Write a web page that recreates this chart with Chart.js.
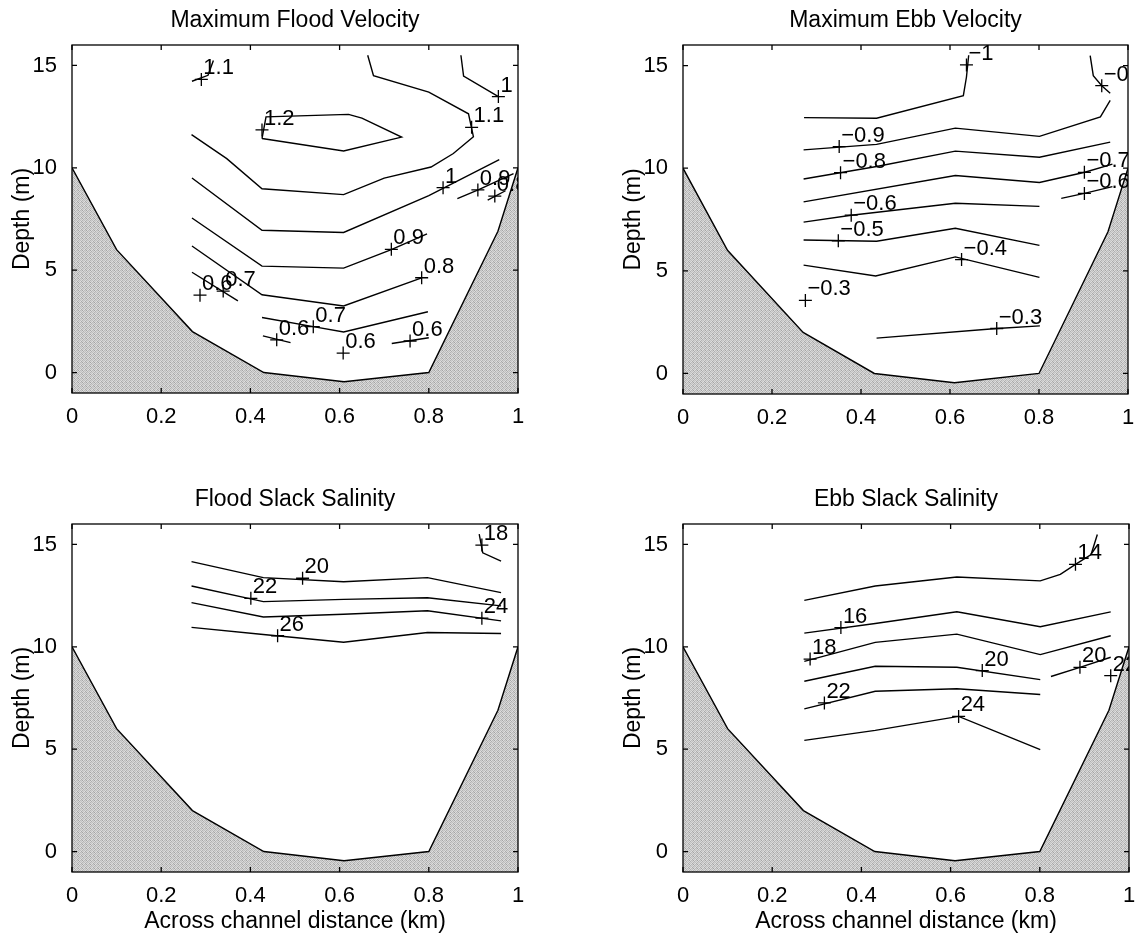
<!DOCTYPE html>
<html>
<head>
<meta charset="utf-8">
<title>Channel cross-section contours</title>
<script src="https://cdn.jsdelivr.net/npm/chart.js@4.4.1/dist/chart.umd.min.js"></script>
<style>
  html, body { margin: 0; padding: 0; background: #fff; }
  #fig { position: relative; width: 1139px; height: 936px; overflow: hidden; }
  #fig canvas { position: absolute; }
</style>
</head>
<body>
<div id="fig">
  <canvas id="floodVel" width="569" height="450" style="left:0px;top:0px"></canvas>
  <canvas id="ebbVel" width="528" height="450" style="left:611px;top:0px"></canvas>
  <canvas id="floodSal" width="569" height="466" style="left:0px;top:470px"></canvas>
  <canvas id="ebbSal" width="528" height="466" style="left:611px;top:470px"></canvas>
</div>
<script>
// axes
const xTicks = [0, 0.2, 0.4, 0.6, 0.8, 1];
const yTicks = [0, 5, 10, 15];

// channel bottom (km, m)
const bedX = [0, 0.1, 0.27, 0.43, 0.61, 0.8, 0.955, 1];
const bedDepth = [10, 6, 2, 0, -0.45, 0, 6.9, 10];

// Maximum flood velocity contours, [x km, depth m]
const floodV_11a = [[0.269, 14.23], [0.305, 14.52], [0.317, 15.24]];
const floodV_12 = [[0.426, 11.43], [0.435, 12.49], [0.62, 12.61], [0.65, 12.43], [0.739, 11.5], [0.609, 10.82], [0.426, 11.43]];
const floodV_11 = [[0.663, 15.5], [0.676, 14.5], [0.8, 13.7], [0.889, 12.64], [0.9, 11.52], [0.855, 10.7], [0.805, 10.04], [0.7, 9.5], [0.609, 8.69], [0.426, 8.98], [0.347, 10.45], [0.268, 11.62]];
const floodV_10a = [[0.872, 15.5], [0.878, 14.48], [0.958, 13.45]];
const floodV_10 = [[0.269, 9.5], [0.426, 6.95], [0.609, 6.84], [0.8, 8.64], [0.958, 10.4]];
const floodV_09 = [[0.269, 7.55], [0.426, 5.2], [0.609, 5.1], [0.716, 6.0], [0.796, 6.77]];
const floodV_09b = [[0.864, 8.5], [0.912, 8.93], [0.99, 9.72]];
const floodV_08 = [[0.269, 6.18], [0.426, 3.8], [0.609, 3.25], [0.784, 4.62]];
const floodV_08b = [[0.932, 8.42], [0.972, 8.88]];
const floodV_07a = [[0.269, 4.9], [0.372, 3.5]];
const floodV_07 = [[0.426, 2.69], [0.541, 2.24], [0.609, 1.98], [0.798, 2.97]];
const floodV_06a = [[0.428, 1.79], [0.49, 1.46]];
const floodV_06b = [[0.717, 1.42], [0.8, 1.7]];
const floodVMarks = [[0.29, 14.32, "1.1"], [0.426, 11.85, "1.2"], [0.896, 11.98, "1.1"], [0.956, 13.48, "1"],
  [0.832, 9.03, "1"], [0.91, 8.92, "0.9"], [0.948, 8.62, "0.8"], [0.716, 6.02, "0.9"], [0.784, 4.63, "0.8"],
  [0.287, 3.78, "0.6"], [0.339, 3.98, "0.7"], [0.459, 1.6, "0.6"], [0.541, 2.24, "0.7"], [0.608, 0.95, "0.6"], [0.758, 1.54, "0.6"]];

// Maximum ebb velocity contours
const ebbV_10 = [[0.272, 12.46], [0.435, 12.43], [0.63, 13.53], [0.637, 14.44], [0.642, 15.5]];
const ebbV_09a = [[0.915, 15.48], [0.922, 14.51], [0.941, 14.02], [0.96, 13.65]];
const ebbV_09 = [[0.271, 10.89], [0.435, 11.16], [0.612, 11.95], [0.801, 11.55], [0.938, 12.5], [0.96, 13.3]];
const ebbV_08 = [[0.271, 9.47], [0.435, 10.08], [0.612, 10.83], [0.801, 10.53], [0.96, 11.27]];
const ebbV_07 = [[0.271, 8.36], [0.612, 9.64], [0.801, 9.3], [0.903, 9.8], [0.965, 10.2]];
const ebbV_06 = [[0.271, 7.37], [0.378, 7.71], [0.612, 8.29], [0.801, 8.14]];
const ebbV_06b = [[0.85, 8.53], [0.902, 8.77], [0.965, 9.1]];
const ebbV_05 = [[0.271, 6.5], [0.435, 6.44], [0.612, 7.07], [0.801, 6.24]];
const ebbV_04 = [[0.271, 5.28], [0.433, 4.75], [0.612, 5.68], [0.801, 4.68]];
const ebbV_03 = [[0.435, 1.72], [0.705, 2.19], [0.802, 2.32]];
const ebbVMarks = [[0.637, 15.03, "−1"], [0.941, 14.02, "−0.9"], [0.351, 11.05, "−0.9"], [0.354, 9.78, "−0.8"],
  [0.902, 9.8, "−0.7"], [0.902, 8.77, "−0.6"], [0.378, 7.71, "−0.6"], [0.349, 6.46, "−0.5"],
  [0.626, 5.55, "−0.4"], [0.275, 3.56, "−0.3"], [0.705, 2.19, "−0.3"]];

// Flood slack salinity contours
const floodS_18 = [[0.913, 15.5], [0.921, 14.59], [0.962, 14.19]];
const floodS_20 = [[0.268, 14.16], [0.429, 13.38], [0.609, 13.18], [0.797, 13.38], [0.962, 12.65]];
const floodS_22 = [[0.268, 12.97], [0.429, 12.21], [0.609, 12.32], [0.797, 12.4], [0.962, 12.0]];
const floodS_24 = [[0.268, 12.16], [0.429, 11.46], [0.609, 11.59], [0.797, 11.76], [0.962, 11.27]];
const floodS_26 = [[0.268, 10.95], [0.429, 10.6], [0.609, 10.22], [0.797, 10.7], [0.962, 10.65]];
const floodSMarks = [[0.919, 14.97, "18"], [0.517, 13.35, "20"], [0.401, 12.37, "22"], [0.919, 11.4, "24"], [0.461, 10.54, "26"]];

// Ebb slack salinity contours
const ebbS_14 = [[0.272, 12.27], [0.431, 12.97], [0.614, 13.41], [0.801, 13.22], [0.846, 13.54], [0.88, 14.03], [0.915, 14.51], [0.929, 15.49]];
const ebbS_16 = [[0.272, 10.67], [0.431, 11.14], [0.614, 11.71], [0.801, 10.98], [0.959, 11.71]];
const ebbS_18 = [[0.272, 9.29], [0.431, 10.22], [0.614, 10.62], [0.801, 9.62], [0.959, 10.54]];
const ebbS_20 = [[0.272, 8.32], [0.431, 9.05], [0.614, 9.0], [0.801, 8.4]];
const ebbS_20b = [[0.825, 8.55], [0.89, 9.0], [0.959, 9.49]];
const ebbS_22 = [[0.272, 6.97], [0.431, 7.83], [0.614, 7.95], [0.801, 7.67]];
const ebbS_24 = [[0.272, 5.43], [0.431, 5.92], [0.618, 6.6], [0.801, 4.98]];
const ebbSMarks = [[0.88, 14.03, "14"], [0.354, 10.94, "16"], [0.285, 9.4, "18"], [0.671, 8.84, "20"],
  [0.89, 9.0, "20"], [0.959, 8.59, "22"], [0.317, 7.26, "22"], [0.618, 6.6, "24"]];

const FONT = "'Liberation Sans', Arial, Helvetica, sans-serif";
Chart.defaults.font.family = FONT;
Chart.defaults.font.size = 22;
Chart.defaults.color = "#000";

// grey stipple used for the channel bed
function makeStipple(ctx) {
    const shades = [[190, 218, 180, 210], [224, 170, 214, 196], [186, 208, 164, 222], [214, 192, 220, 176]];
    const c = document.createElement("canvas");
    c.width = 4;
    c.height = 4;
    const g = c.getContext("2d");
    shades.forEach(function(row, j) {
        row.forEach(function(v, i) {
            g.fillStyle = "rgb(" + v + "," + v + "," + v + ")";
            g.fillRect(i, j, 1, 1);
        });
    });
    return ctx.createPattern(c, "repeat");
}

// box, inward ticks, contour labels and panel title
const framePlugin = {
    id: "frame",
    afterDatasetsDraw(chart, args, opts) {
        const ctx = chart.ctx;
        const a = chart.chartArea;
        const sx = chart.scales.x;
        const sy = chart.scales.y;
        ctx.save();
        ctx.strokeStyle = "#000";
        ctx.lineWidth = 1.3;
        ctx.strokeRect(a.left, a.top, a.right - a.left, a.bottom - a.top);
        ctx.beginPath();
        xTicks.forEach(function(v) {
            const p = sx.getPixelForValue(v);
            ctx.moveTo(p, a.bottom);
            ctx.lineTo(p, a.bottom - 5);
            ctx.moveTo(p, a.top);
            ctx.lineTo(p, a.top + 5);
        });
        yTicks.forEach(function(v) {
            const p = sy.getPixelForValue(v);
            ctx.moveTo(a.left, p);
            ctx.lineTo(a.left + 5, p);
            ctx.moveTo(a.right, p);
            ctx.lineTo(a.right - 5, p);
        });
        ctx.stroke();

        ctx.fillStyle = "#000";
        ctx.font = "23px " + FONT;
        ctx.textAlign = "center";
        ctx.textBaseline = "middle";
        ctx.fillText(opts.title, (a.left + a.right) / 2, a.top - 24);

        ctx.beginPath();
        ctx.rect(a.left, a.top, a.right - a.left, a.bottom - a.top);
        ctx.clip();
        ctx.font = "22px " + FONT;
        ctx.textAlign = "left";
        ctx.textBaseline = "alphabetic";
        opts.marks.forEach(function(m) {
            ctx.fillText(m[2], sx.getPixelForValue(m[0]) + 2, sy.getPixelForValue(m[1]) - 5);
        });
        ctx.restore();
    }
};

function toXY(pts) {
    return pts.map(function(p) { return {x: p[0], y: p[1]}; });
}

function makePanel(id, title, lines, marks, xTitle, padTop, padRight, xAxisH) {
    const canvas = document.getElementById(id);
    const datasets = [{
        data: bedX.map(function(v, i) { return {x: v, y: bedDepth[i]}; }),
        borderColor: "#000",
        borderWidth: 1.4,
        pointRadius: 0,
        backgroundColor: makeStipple(canvas.getContext("2d")),
        fill: "start",
        order: 3
    }];
    lines.forEach(function(l) {
        datasets.push({data: toXY(l), borderColor: "#000", borderWidth: 1.4, pointRadius: 0, fill: false, order: 2});
    });
    datasets.push({
        data: toXY(marks),
        showLine: false,
        pointStyle: "cross",
        pointRadius: 6.5,
        borderColor: "#000",
        borderWidth: 1.3,
        order: 1
    });

    new Chart(canvas, {
        type: "line",
        data: {datasets: datasets},
        options: {
            responsive: false,
            animation: false,
            events: [],
            layout: {padding: {top: padTop, right: padRight, left: 0, bottom: 0}},
            plugins: {
                legend: {display: false},
                tooltip: {enabled: false},
                frame: {title: title, marks: marks}
            },
            scales: {
                x: {
                    type: "linear",
                    min: 0,
                    max: 1,
                    afterBuildTicks: function(s) { s.ticks = xTicks.map(function(v) { return {value: v}; }); },
                    afterFit: function(s) { s.height = xAxisH; },
                    grid: {display: false},
                    border: {display: false},
                    ticks: {padding: 3, maxRotation: 0, callback: function(v) { return String(v); }},
                    title: {display: xTitle, text: "Across channel distance (km)", font: {size: 23}, padding: {top: 0, bottom: 1}}
                },
                y: {
                    type: "linear",
                    min: -1,
                    max: 16,
                    afterBuildTicks: function(s) { s.ticks = yTicks.map(function(v) { return {value: v}; }); },
                    afterFit: function(s) { s.width = 72; },
                    grid: {display: false},
                    border: {display: false},
                    ticks: {padding: 7, callback: function(v) { return String(v); }},
                    title: {display: true, text: "Depth (m)", font: {size: 23}, padding: {top: 9, bottom: 0}}
                }
            }
        },
        plugins: [framePlugin]
    });
}

makePanel("floodVel", "Maximum Flood Velocity",
    [floodV_11a, floodV_12, floodV_11, floodV_10a, floodV_10, floodV_09, floodV_09b, floodV_08, floodV_08b, floodV_07a, floodV_07, floodV_06a, floodV_06b],
    floodVMarks, false, 45, 51, 57);
makePanel("ebbVel", "Maximum Ebb Velocity",
    [ebbV_10, ebbV_09a, ebbV_09, ebbV_08, ebbV_07, ebbV_06, ebbV_06b, ebbV_05, ebbV_04, ebbV_03],
    ebbVMarks, false, 45, 11, 56);
makePanel("floodSal", "Flood Slack Salinity",
    [floodS_18, floodS_20, floodS_22, floodS_24, floodS_26],
    floodSMarks, true, 54, 51, 64);
makePanel("ebbSal", "Ebb Slack Salinity",
    [ebbS_14, ebbS_16, ebbS_18, ebbS_20, ebbS_20b, ebbS_22, ebbS_24],
    ebbSMarks, true, 54, 10, 64);
</script>
</body>
</html>
